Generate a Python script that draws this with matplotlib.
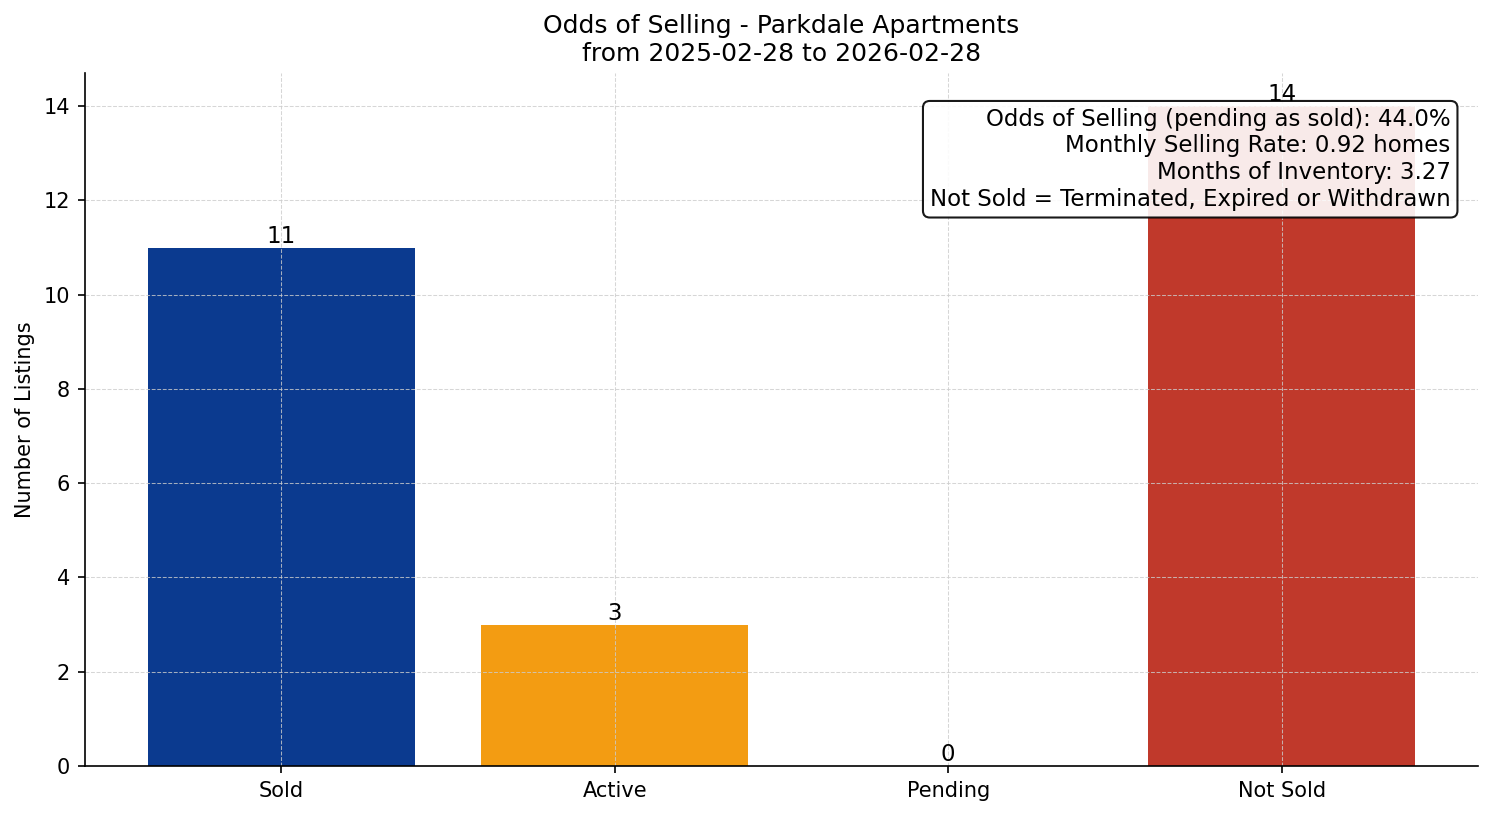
import matplotlib
matplotlib.use("Agg")
import matplotlib.pyplot as plt

categories = ["Sold", "Active", "Pending", "Not Sold"]
counts = [11, 3, 0, 14]
colors = ["#0B3A8F", "#F39C12", "#2E86C1", "#C0392B"]

stats_lines = [
    "Odds of Selling (pending as sold): 44.0%",
    "Monthly Selling Rate: 0.92 homes",
    "Months of Inventory: 3.27",
    "Not Sold = Terminated, Expired or Withdrawn",
]

fig = plt.figure(figsize=(9.96, 5.44), dpi=150)
ax = fig.add_axes([0.0566, 0.0613, 0.9330, 0.8490])

bars = ax.bar(categories, counts, color=colors, width=0.8)
for b, c in zip(bars, counts):
    ax.text(b.get_x() + b.get_width() / 2, c, str(c), ha="center", va="bottom", fontsize=11)

ax.set_ylabel("Number of Listings")
ax.set_title("Odds of Selling - Parkdale Apartments\nfrom 2025-02-28 to 2026-02-28", fontsize=12)
ax.grid(True, linestyle="--", linewidth=0.5, color="#cccccc", alpha=0.8)
ax.spines["top"].set_visible(False)
ax.spines["right"].set_visible(False)

ax.text(0.98, 0.95, "\n".join(stats_lines), transform=ax.transAxes, ha="right", va="top",
        fontsize=11, bbox=dict(boxstyle="round,pad=0.3", facecolor="white", edgecolor="black", alpha=0.9))

fig.savefig("out.png", dpi=150)
